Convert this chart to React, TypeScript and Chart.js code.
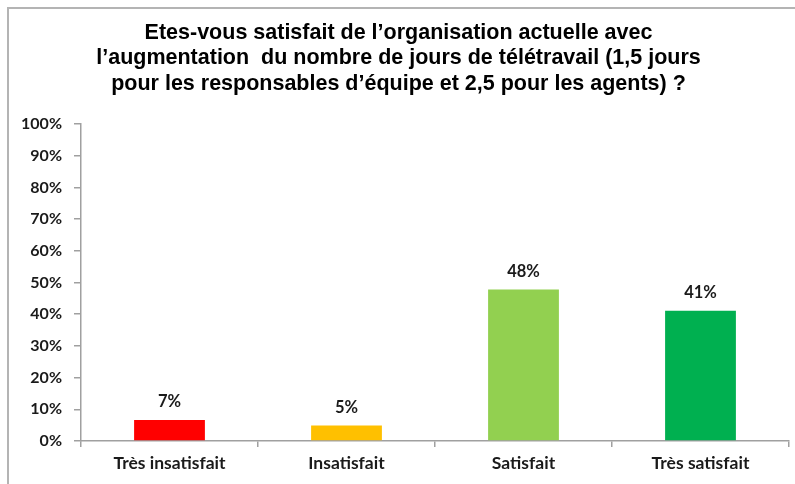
import React, { useEffect, useRef } from "react";
import { Chart, registerables } from "chart.js";

Chart.register(...registerables);

const titleLines = [
  "Etes-vous satisfait de l\u2019organisation actuelle avec",
  "l\u2019augmentation  du nombre de jours de télétravail (1,5 jours",
  "pour les responsables d\u2019équipe et 2,5 pour les agents) ?",
];
const categories = ["Très insatisfait", "Insatisfait", "Satisfait", "Très satisfait"];
const values = [6.6, 4.9, 47.8, 41.1];
const barColors = ["#FF0000", "#FFC000", "#92D050", "#00B050"];
const yMin = 0;
const yMax = 100;
const yStep = 10;

const labelFont = "Lato, 'Open Sans', sans-serif";
const axisColor = "#a0a0a0";

const dataLabelPlugin = {
  id: "dataLabels",
  afterDatasetsDraw(chart: any) {
    const ctx = chart.ctx;
    const meta = chart.getDatasetMeta(0);
    const ds = chart.data.datasets[0];
    ctx.save();
    ctx.font = `bold 16.5px ${labelFont}`;
    ctx.fillStyle = "#1a1a1a";
    ctx.textAlign = "center";
    ctx.textBaseline = "middle";
    meta.data.forEach((bar: any, i: number) => {
      const v = ds.data[i] as number;
      ctx.fillText(Math.round(v) + "%", bar.x, bar.y - 18);
    });
    ctx.restore();
  },
};

export default function App() {
  const ref = useRef<HTMLCanvasElement | null>(null);
  useEffect(() => {
    if (!ref.current) return;
    const chart = new Chart(ref.current, {
      type: "bar",
      data: {
        labels: categories,
        datasets: [
          {
            data: values,
            backgroundColor: barColors,
            borderWidth: 0,
            barPercentage: 0.4,
            categoryPercentage: 1,
          },
        ],
      },
      options: {
        animation: false,
        responsive: false,
        maintainAspectRatio: false,
        layout: { padding: { left: 8, right: 6, top: 20, bottom: 0 } },
        plugins: {
          legend: { display: false },
          tooltip: { enabled: false },
          title: {
            display: true,
            text: titleLines,
            color: "#000",
            font: { family: "'Liberation Sans', Arial, sans-serif", size: 21.5, weight: "bold", lineHeight: "25.5px" },
            padding: { top: 0.25, bottom: 27.25 },
          },
        },
        scales: {
          x: {
            grid: {
              display: true,
              drawOnChartArea: false,
              offset: true,
              tickLength: 6,
              color: axisColor,
              lineWidth: 1.5,
            },
            border: { display: true, color: axisColor, width: 1.5 },
            ticks: {
              color: "#1a1a1a",
              font: { family: labelFont, size: 17.5, weight: "bold" },
              padding: 6,
            },
            afterFit: (s: any) => {
              s.height = 43;
            },
          },
          y: {
            min: yMin,
            max: yMax,
            grid: {
              display: true,
              drawOnChartArea: false,
              tickLength: 7,
              color: axisColor,
              lineWidth: 1.5,
            },
            border: { display: true, color: axisColor, width: 1.5 },
            ticks: {
              stepSize: yStep,
              color: "#1a1a1a",
              font: { family: labelFont, size: 16, weight: "bold" },
              padding: 12,
              callback: (v: any) => v + "%",
            },
            afterFit: (s: any) => {
              s.width = 73;
            },
          },
        },
      },
      plugins: [dataLabelPlugin],
    });
    return () => chart.destroy();
  }, []);

  return (
    <div style={{ position: "absolute", left: 0, top: 0, width: 795, height: 484, overflow: "hidden", background: "#fff" }}>
      <div
        style={{
          position: "absolute",
          left: 7,
          top: 7,
          width: 800,
          height: 500,
          borderTop: "2px solid #b4b4b4",
          borderLeft: "2px solid #b4b4b4",
          boxSizing: "border-box",
        }}
      />
      <canvas ref={ref} width={795} height={484} style={{ position: "absolute", left: 0, top: 0 }} />
    </div>
  );
}
